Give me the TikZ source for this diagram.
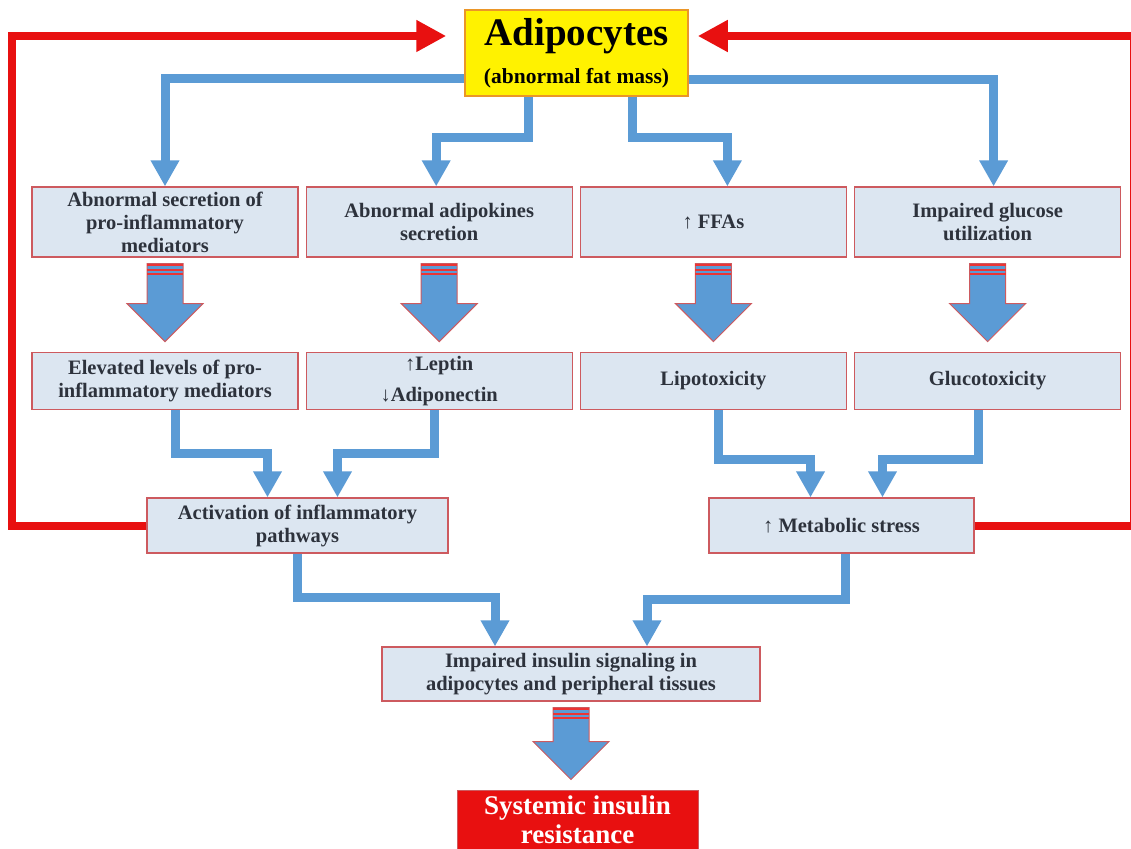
\documentclass[tikz,border=0pt]{standalone}
\usepackage{fontspec}
\setmainfont{Liberation Serif}
\usepackage{tikz}
\usetikzlibrary{shapes.geometric, arrows.meta, positioning, calc}
\definecolor{flowblue}{RGB}{91,155,213}
\definecolor{boxfill}{RGB}{220,230,241}
\definecolor{boxred}{RGB}{205,90,95}
\definecolor{loopred}{RGB}{232,16,16}
\definecolor{fatyellow}{RGB}{255,242,0}
\definecolor{fatorange}{RGB}{235,150,40}
\definecolor{textgray}{RGB}{45,50,60}
\tikzstyle{flow} = [draw=flowblue, line width=9pt, -{Triangle[width=27pt,length=26pt]}]
\tikzstyle{feedback} = [draw=loopred, line width=8pt, -{Triangle[width=30pt,length=30pt]}]
\tikzstyle{process} = [rectangle, minimum width=266pt, minimum height=70pt, inner sep=2pt, align=center, draw=boxred, line width=1.2pt, fill=boxfill, text=textgray, font=\bfseries\fontsize{20.5}{23}\selectfont]
\tikzstyle{lowbox} = [minimum height=57pt]
\tikzstyle{source} = [rectangle, minimum width=223pt, minimum height=86pt, inner sep=2pt, align=center, draw=fatorange, line width=1.5pt, fill=fatyellow, text=black, font=\bfseries\fontsize{21.5}{38}\selectfont]
\tikzstyle{outcome} = [rectangle, minimum width=241pt, minimum height=60pt, inner sep=2pt, align=center, draw=boxred, line width=1pt, fill=loopred, text=white, font=\bfseries\fontsize{27}{29}\selectfont]
\tikzstyle{fatbody} = [fill=flowblue, draw=boxred, line width=1pt, line join=miter]
\tikzstyle{stripe} = [draw=loopred!85!white, line width=2.2pt]
% wide block arrow between two boxes
\newcommand{\fatarrow}[2]{%
  \path (#1.south) ++(0,6) coordinate (ft);
  \path (ft |- #2.north) ++(0,-10) coordinate (fb);
  \filldraw[fatbody] ($(ft)+(-18,0)$) -- ($(ft)+(18,0)$) -- ($(fb)+(18,-38)$) -- ($(fb)+(38,-38)$) -- (fb) -- ($(fb)+(-38,-38)$) -- ($(fb)+(-18,-38)$) -- cycle;
  \foreach \s in {1.5,6,10.5} \draw[stripe] ($(ft)+(-18,\s)$) -- ++(36,0);
}

\begin{document}
\begin{tikzpicture}[x=1pt, y=-1pt, node distance=94pt and 7pt]
        \useasboundingbox (0,0) rectangle (1131,848);
        \fill[white] (0,0) rectangle (1131,848);

        \node (adipocytes) [source] at (576.5,53) {{\fontsize{39}{38}\selectfont Adipocytes}\\(abnormal fat mass)};

        \node (secretion) [process] at (165,222) {Abnormal secretion of\\pro-inflammatory\\mediators};
        \node (adipokines) [process, right=of secretion] {Abnormal adipokines\\secretion};
        \node (ffa) [process, right=of adipokines] {↑ FFAs};
        \node (glucose) [process, right=of ffa] {Impaired glucose\\utilization};

        \node (elevated) [process, lowbox, below=of secretion] {Elevated levels of pro-\\inflammatory mediators};
        \node (leptin) [process, lowbox, below=of adipokines] {↑Leptin\\[8pt]↓Adiponectin};
        \node (lipo) [process, lowbox, below=of ffa] {Lipotoxicity};
        \node (gluco) [process, lowbox, below=of glucose] {Glucotoxicity};

        \node (activation) [process, minimum width=301pt, minimum height=55pt] at (297.5,525.5) {Activation of inflammatory\\pathways};
        \node (metabolic) [process, minimum width=265pt, minimum height=55pt] at (841.5,525.5) {↑ Metabolic stress};
        \node (impaired) [process, minimum width=378pt, minimum height=54pt] at (571,674) {Impaired insulin signaling in\\adipocytes and peripheral tissues};
        \node (systemic) [outcome] at (577.5,820) {Systemic insulin\\resistance};

        \draw [flow] ([yshift=-26pt]adipocytes.west) -| (secretion.north);
        \draw [flow] ([xshift=-48pt]adipocytes.south) -- ++(0,41) -| ([xshift=-3pt]adipokines.north);
        \draw [flow] ([xshift=56pt]adipocytes.south) -- ++(0,41) -| ([xshift=14pt]ffa.north);
        \draw [flow] ([yshift=-27pt]adipocytes.east) -| ([xshift=6pt]glucose.north);

        \fatarrow{secretion}{elevated}
        \fatarrow{adipokines}{leptin}
        \fatarrow{ffa}{lipo}
        \fatarrow{glucose}{gluco}

        \draw [flow] ([xshift=10pt]elevated.south) -- ++(0,44) -| ([xshift=-30pt]activation.north);
        \draw [flow] ([xshift=-5pt]leptin.south) -- ++(0,44) -| ([xshift=40pt]activation.north);
        \draw [flow] ([xshift=5pt]lipo.south) -- ++(0,50) -| ([xshift=-31pt]metabolic.north);
        \draw [flow] ([xshift=-9pt]gluco.south) -- ++(0,50) -| ([xshift=41pt]metabolic.north);

        \draw [flow] (activation.south) -- ++(0,44) -| ([xshift=-76pt]impaired.north);
        \draw [flow] ([xshift=4pt]metabolic.south) -- ++(0,46) -| ([xshift=76pt]impaired.north);

        \fatarrow{impaired}{systemic}

        \draw [feedback, shorten >=18pt] (activation.west) -- ++(-134,0) |- ([yshift=17pt]adipocytes.west);
        \draw [feedback, shorten >=9pt] (metabolic.east) -- ++(159,0) |- ([yshift=17pt]adipocytes.east);
    \end{tikzpicture}
\end{document}
